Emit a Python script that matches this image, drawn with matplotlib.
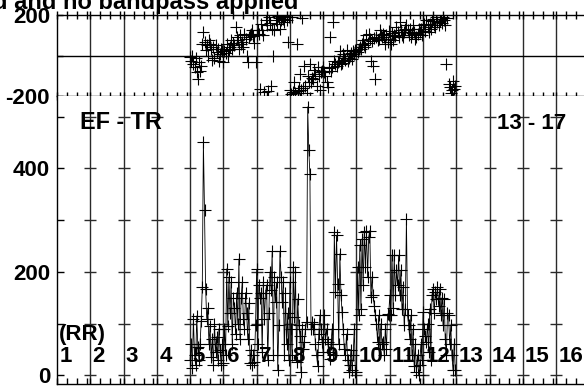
import numpy as np
import matplotlib
matplotlib.use("Agg")
import matplotlib.pyplot as plt

plt.rcParams['font.family'] = ['Liberation Sans', 'DejaVu Sans']
plt.rcParams['font.weight'] = 'bold'

# ---------------- data ----------------
t_start, t_end = 4.0, 11.97          # sample times in interval units
amplitude = [
    30, 60, 15, 110, 40, 20, 115, 55, 30, 60, 105, 170, 452, 319, 168,
    110, 130, 60, 95, 35, 70, 20, 100, 45, 75, 30, 90, 50, 20, 60,
    25, 90, 40, 206, 95, 190, 120, 180, 60, 150, 130, 80, 160, 100, 225,
    70, 150, 180, 110, 90, 160, 120, 70, 140, 25, 50, 20, 40, 26, 97,
    205, 60, 175, 150, 160, 45, 180, 110, 160, 175, 30, 120, 200, 165, 240,
    40, 190, 142, 180, 10, 97, 240, 190, 142, 180, 39, 160, 60, 120, 30,
    180, 90, 40, 210, 113, 200, 26, 148, 97, 77, 6, 90, 52, 65, 90,
    103, 519, 435, 389, 90, 103, 90, 100, 60, 40, 19, 80, 116, 90, 65,
    45, 116, 70, 90, 65, 45, 32, 61, 90, 40, 277, 161, 271, 177, 60,
    235, 155, 122, 90, 52, 39, 80, 30, 6, 20, 50, 10, 40, 90, 6,
    6, 210, 116, 252, 129, 264, 174, 277, 210, 280, 190, 268, 280, 152, 190,
    155, 135, 116, 100, 65, 116, 52, 100, 60, 65, 40, 90, 52, 119, 116,
    155, 116, 232, 130, 232, 155, 203, 174, 232, 155, 203, 129, 171, 97, 129,
    303, 116, 97, 71, 116, 39, 90, 19, 60, 6, 40, 0, 20, 60, 30,
    122, 90, 77, 65, 100, 45, 129, 30, 155, 168, 120, 161, 148, 170, 135,
    168, 116, 150, 97, 148, 71, 39, 120, 116, 60, 97, 39, 10, 60, 10]
phase = [
    -5, -25, 0, -42, -58, -10, -83, -117, -30, -75, -50, 58, 117, 67, 25,
    50, 0, 75, 58, 30, -20, 40, -10, 50, 17, 33, -25, 8, 30, 20,
    -33, 20, 10, 58, 0, 25, 42, 75, 30, 60, 50, 142, 92, 75, 30,
    100, 58, 67, 40, 108, 80, 0, -33, 90, 100, 108, 125, 95, 60, -33,
    100, 125, 108, -167, 158, 125, 100, -180, 175, 150, -175, 190, 160, -150, 130,
    0, 125, 175, 158, 195, 183, 130, 175, 190, 180, 165, 195, 175, 67, 190,
    -170, -190, 190, -180, -133, -185, 58, -175, -160, -92, -170, 183, -160, -50, -150,
    -185, -100, -130, -42, -133, -110, -117, -70, -90, -150, -58, -100, -170, -80, -75,
    -58, -83, -100, -133, -158, -60, 92, -75, -55, 167, -25, -42, -50, -30, -25,
    20, -42, -35, 8, -10, -20, 25, -25, -10, 0, 10, -15, 20, 8, 25,
    25, 17, 33, 42, 30, 58, 75, 50, 40, 100, 60, 108, 80, -25, 70,
    -50, 85, -117, 92, 75, 83, 125, 100, 90, 108, 92, 58, 100, 67, 120,
    83, 58, 110, 75, 100, 95, 142, 117, 90, 167, 125, 100, 92, 117, 130,
    150, 125, 100, 133, 92, 110, 150, 117, 83, 92, 108, 130, 117, 133, 100,
    150, 158, 120, 175, 142, 117, 158, 130, 170, 180, 150, 140, 190, 165, 150,
    170, 180, 160, 190, 175, 150, -42, 185, -142, -158, -183, -170, -125, -165, -150]
interval_labels = [str(i) for i in range(1, 17)]
top_yticks = [-200, 0, 200]
top_yticklabels = ['-200', '', '200']
bot_yticks = [0, 200, 400]
bot_yticklabels = ['0', '200', '400']
label_left = 'EF - TR'
label_right = '13 - 17'
label_rr = '(RR)'
title = 'd and no bandpass applied'

t_amp = np.linspace(t_start, t_end, len(amplitude))
t_phase = np.linspace(t_start, t_end, len(phase))

# ---------------- layout ----------------
W, H = 584, 386
fig = plt.figure(figsize=(W / 100, H / 100), dpi=100)

def rect(x0, y0, x1, y1):
    return [x0 / W, 1 - y1 / H, (x1 - x0) / W, (y1 - y0) / H]

px_per_unit = 33.27
xmax = (W - 57) / px_per_unit
ax1 = fig.add_axes(rect(57, 15, W, 96))
ax2 = fig.add_axes(rect(57, 96, W, 383.5))

grid_col = '#2a2a2a'
majors = np.arange(1, 16)
minors = np.array([i + f for i in range(16) for f in (0.3, 0.6, 0.9)])
FS = 16

for ax in (ax1, ax2):
    ax.set_xlim(0, xmax)
    for s in ax.spines.values():
        s.set_linewidth(1.0)
        s.set_color('black')
    ax.spines['right'].set_visible(False)
    for xv in majors:
        ax.axvline(xv, color=grid_col, lw=1.0, zorder=1)
    ax.set_xticks(np.arange(0, 16), labels=[])
    ax.set_xticks(minors[minors < xmax], minor=True)

# top panel
ax1.set_ylim(-200, 200)
ax1.axhline(0, color='black', lw=1.0, zorder=1)
ax1.plot(t_phase, phase, linestyle='none', marker='+', color='black',
         markersize=8.5, markeredgewidth=0.8, zorder=3)
ax1.set_yticks(top_yticks, labels=top_yticklabels)
ax1.tick_params(axis='y', direction='in', length=4, width=1, pad=5,
                labelsize=FS)
ax1.tick_params(axis='x', which='both', direction='inout', length=6, width=1,
                top=True, bottom=True)

# bottom panel
ax2.set_ylim(-15.5, 540)
ax2.plot(t_amp, amplitude, color='black', lw=0.6, marker='+', markersize=8.5,
         markeredgewidth=0.8, zorder=3)
ax2.set_yticks(bot_yticks, labels=bot_yticklabels)
ax2.set_yticks([100, 300, 500], minor=True)
ax2.tick_params(axis='y', which='both', direction='in', length=5, width=1,
                pad=5, labelsize=FS)
ax2.tick_params(axis='x', which='both', direction='in', length=4, width=1,
                top=False, bottom=True)
for xv in majors:
    ax2.plot([xv] * 6, [0, 100, 200, 300, 400, 500], linestyle='none',
             marker='_', markersize=9, markeredgewidth=1.0,
             color=grid_col, zorder=2)
ax2.spines['top'].set_visible(False)

for lab in ax1.get_yticklabels() + ax2.get_yticklabels():
    lab.set_fontweight('bold')

# text labels
for i, lab in enumerate(interval_labels):
    ax2.text(i + 0.07, 26, lab, fontsize=FS, fontweight='bold',
             ha='left', va='baseline', zorder=4)
ax2.text(0.05, 69, label_rr, fontsize=FS, fontweight='bold',
         ha='left', va='baseline', zorder=4)
ax2.text(0.69, 476, label_left, fontsize=16.8, fontweight='bold',
         ha='left', va='baseline', zorder=4)
ax2.text(13.22, 476, label_right, fontsize=FS, fontweight='bold',
         ha='left', va='baseline', zorder=4)

fig.text(298 / W, 1 - 9 / H, title, fontsize=17, fontweight='bold',
         ha='right', va='baseline')

fig.savefig('out.png', dpi=100)
